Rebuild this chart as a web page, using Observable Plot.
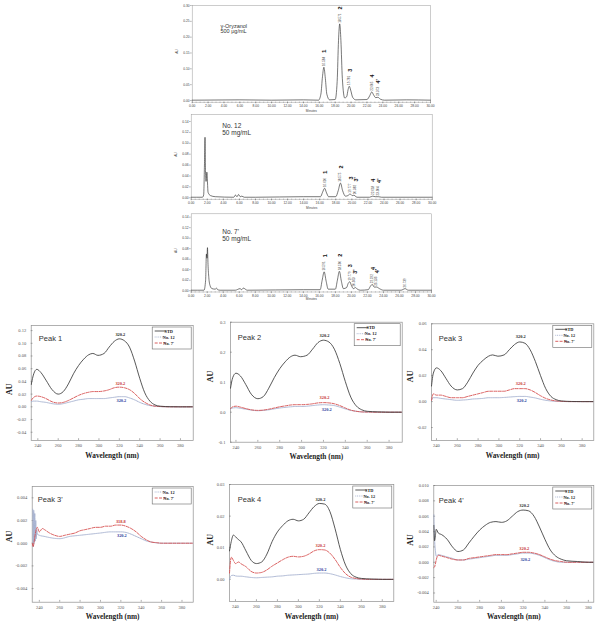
<!DOCTYPE html>
<html><head><meta charset="utf-8">
<script src="https://cdn.jsdelivr.net/npm/d3@7"></script>
<script src="https://cdn.jsdelivr.net/npm/@observablehq/plot@0.6"></script>
<style>
body{margin:0;background:#fff}
#wrap{position:relative;width:607px;height:630px;overflow:hidden;background:#fff}
.panel{position:absolute}
.panel svg{display:block;overflow:visible}
</style>
</head><body><div id="wrap"></div>
<script>
// ---------- Chromatograms ----------
const chromXTicks = [0,2,4,6,8,10,12,14,16,18,20,22,24,26,28,30];
const chromY1Ticks = [0,0.05,0.10,0.15,0.20,0.25,0.30];
const chromY2Ticks = [0,0.02,0.04,0.06,0.08,0.10,0.12,0.14];

const c1T = [0,3,6,10,14,15.9,16.2,16.4,16.58,16.76,16.95,17.3,18.0,18.25,18.42,18.57,18.72,18.9,19.2,19.45,19.62,19.78,19.95,20.2,20.6,22.0,22.35,22.6,22.85,23.1,23.37,23.7,24.2,27,30];
const c1A = [0.001,0.0015,0.002,0.001,0.002,0.001,0.02,0.075,0.105,0.07,0.02,0.002,0.003,0.06,0.19,0.242,0.19,0.07,0.008,0.012,0.034,0.045,0.033,0.01,0.002,0.003,0.015,0.027,0.017,0.009,0.01,0.004,0.001,0.002,0.001];
const c1PeakT = [16.584,18.571,19.781,22.605,23.373];
const c1PeakA = [0.105,0.242,0.045,0.027,0.010];
const c1PeakRt = ["16.584","18.571","19.781","22.605","23.373"];
const c1PeakNo = ["1","2","3","4","4'"];

const c2T = [0,1.4,1.55,1.65,1.72,1.78,1.85,1.95,2.1,2.4,3,5.3,5.5,5.7,5.9,6.1,6.3,6.6,8,14,16.1,16.35,16.6,16.85,17.1,18.0,18.3,18.58,18.85,19.2,19.5,19.78,20.05,20.2,20.38,20.6,22.2,22.6,22.9,23.3,23.7,26,30];
const c2A = [0.001,0.001,0.005,0.06,0.111,0.05,0.03,0.047,0.01,0.004,0.002,0.001,0.005,0.002,0.006,0.002,0.003,0.001,0.001,0.002,0.002,0.010,0.0175,0.009,0.002,0.002,0.013,0.027,0.013,0.003,0.004,0.007,0.004,0.0045,0.004,0.001,0.001,0.003,0.002,0.002,0.001,0.001,0.001];
const c2PeakT = [16.610,18.575,19.777,20.382,22.618,23.304];
const c2PeakA = [0.0175,0.027,0.007,0.0045,0.003,0.002];
const c2PeakRt = ["16.610","18.575","19.777","20.382","22.618","23.304"];
const c2PeakNo = ["1","2","3","3'","4","4'"];

const c3T = [0,1.6,1.8,1.9,1.97,2.03,2.1,2.2,2.35,2.6,3.0,3.15,3.3,3.6,5.5,6.1,6.3,6.5,7,14,16.1,16.35,16.6,16.85,17.1,18.0,18.25,18.5,18.75,19.0,19.4,19.6,19.8,20.0,20.25,20.5,20.75,21.1,22.1,22.35,22.6,22.85,23.15,23.5,24.0,26.2,26.7,27.1,30];
const c3A = [0.001,0.001,0.02,0.07,0.062,0.082,0.05,0.025,0.01,0.004,0.003,0.005,0.002,0.001,0.001,0.004,0.002,0.005,0.001,0.002,0.002,0.02,0.036,0.018,0.003,0.003,0.02,0.037,0.018,0.004,0.006,0.014,0.017,0.01,0.004,0.006,0.003,0.001,0.002,0.008,0.012,0.007,0.007,0.004,0.001,0.001,0.004,0.001,0.001];
const c3PeakT = [16.591,18.560,19.779,20.363,22.592,23.133,26.739];
const c3PeakA = [0.036,0.037,0.017,0.006,0.012,0.007,0.004];
const c3PeakRt = ["16.591","18.560","19.779","20.363","22.592","23.133","26.739"];
const c3PeakNo = ["1","2","3","3'","4","4'",""];

// ---------- UV spectra ----------
const specXTicks = [240,260,280,300,320,340,360,380];
const seriesNames = ["STD","No. 12","No. 7'"];

const p1Wl = [233.5,236,239,243,248,254,260,265,270,275,280,285,290,294,299,305,310,315,320,325,330,335,340,345,350,355,360,370,380,392.5];
const p1Std = [0.035,0.052,0.059,0.054,0.042,0.027,0.020,0.024,0.036,0.052,0.065,0.075,0.082,0.084,0.081,0.084,0.094,0.103,0.107,0.104,0.094,0.072,0.045,0.022,0.009,0.003,0.001,0.0002,0,0];
const p1No12 = [0.008,0.009,0.009,0.008,0.007,0.005,0.004,0.005,0.007,0.009,0.011,0.012,0.013,0.013,0.013,0.013,0.014,0.015,0.016,0.016,0.014,0.011,0.007,0.004,0.002,0.001,0.0003,0,0,0];
const p1No7 = [0.010,0.015,0.017,0.016,0.013,0.008,0.006,0.007,0.010,0.014,0.018,0.021,0.023,0.024,0.024,0.025,0.027,0.030,0.031,0.030,0.027,0.021,0.013,0.007,0.003,0.001,0.0005,0,0,0];
const p1YTicks = [-0.04,-0.02,0,0.02,0.04,0.06,0.08,0.10,0.12];

const p2Wl = [235,237,240,244,249,254,260,265,270,275,280,285,290,294,299,305,310,315,320,325,330,335,340,345,350,355,360,370,380,392];
const p2Std = [0.080,0.115,0.130,0.121,0.092,0.060,0.045,0.052,0.080,0.115,0.145,0.168,0.185,0.190,0.185,0.190,0.210,0.232,0.240,0.234,0.210,0.162,0.102,0.050,0.021,0.008,0.003,0.001,0,0];
const p2No12 = [0.010,0.014,0.015,0.013,0.010,0.007,0.005,0.006,0.008,0.011,0.014,0.016,0.018,0.019,0.019,0.020,0.022,0.024,0.025,0.024,0.022,0.017,0.011,0.006,0.003,0.001,0.0004,0,0,0];
const p2No7 = [0.012,0.018,0.020,0.017,0.012,0.008,0.006,0.007,0.010,0.014,0.018,0.021,0.024,0.025,0.025,0.026,0.028,0.031,0.032,0.031,0.028,0.022,0.014,0.007,0.003,0.001,0.0005,0,0,0];
const p2YTicks = [-0.1,0,0.1,0.2,0.3];

const p3Wl = [235.2,237,240,244,249,254,260,265,270,275,280,285,290,294,299,305,310,315,320,325,330,335,340,345,350,355,360,370,380,391.2];
const p3Std = [0.012,0.022,0.026,0.024,0.018,0.012,0.009,0.010,0.015,0.022,0.028,0.032,0.035,0.036,0.035,0.036,0.040,0.044,0.046,0.045,0.040,0.031,0.020,0.010,0.004,0.0015,0.0005,0.0001,0,0];
const p3No12 = [0.001,0.003,0.003,0.0025,0.002,0.0015,0.001,0.0012,0.0015,0.002,0.0022,0.0025,0.003,0.003,0.003,0.0032,0.0035,0.0038,0.004,0.004,0.0035,0.0028,0.0018,0.001,0.0005,0.0002,0.0001,0,0,0];
const p3No7 = [0.001,0.006,0.005,0.005,0.004,0.003,0.003,0.003,0.004,0.005,0.006,0.007,0.008,0.008,0.008,0.008,0.009,0.010,0.010,0.010,0.009,0.007,0.0045,0.0025,0.0012,0.0005,0.0002,0,0,0];
const p3YTicks = [-0.02,0,0.02,0.04,0.06];

const p4Wl12 = [233.5,234,234.5,235,235.5,236,236.5,237,237.5,238,240,245,250,260,270,280,290,300,310,320,325,330,335,340,345,350,355,360,370,380,391];
const p4No12 = [0.003,-0.0003,0.0029,0.0,0.0026,0.0002,0.002,0.0004,0.0012,0.0008,0.0007,0.0006,0.0005,0.0004,0.0006,0.0007,0.0008,0.0009,0.001,0.001,0.00095,0.0008,0.0006,0.0004,0.0002,0.0001,0.00003,0,0,0,0];
const p4Wl7 = [233,234,235,236,238,240,243,245,250,255,260,265,270,275,280,285,290,295,300,305,310,315,320,325,330,335,340,345,350,355,360,370,380,391];
const p4No7 = [0.0,-0.0003,0.0002,0.0008,0.0014,0.001,0.0013,0.0012,0.0009,0.0007,0.0006,0.0007,0.0008,0.0009,0.0011,0.0012,0.0013,0.0014,0.0014,0.0015,0.0015,0.0016,0.0016,0.0015,0.0013,0.001,0.0006,0.0003,0.0001,0.00005,0,0,0,0];
const p4YTicks = [-0.004,-0.002,0,0.002,0.004];

const p5Wl = [234.3,236,238,240,243,245,250,255,260,265,270,275,280,285,290,295,300,305,310,315,320,325,330,335,340,345,350,355,360,370,380,391];
const p5Std = [0.009,0.012,0.014,0.0135,0.0125,0.012,0.009,0.006,0.005,0.0055,0.008,0.012,0.015,0.017,0.0185,0.019,0.0185,0.019,0.021,0.023,0.024,0.0238,0.0215,0.016,0.0095,0.0045,0.0018,0.0007,0.0003,0.0001,0,0];
const p5No12 = [0.0,0.0012,0.0013,0.0011,0.001,0.001,0.0008,0.0006,0.0005,0.0006,0.0007,0.0008,0.001,0.0011,0.0013,0.0014,0.0015,0.0016,0.0017,0.0019,0.002,0.002,0.0018,0.0014,0.0009,0.0005,0.0002,0.0001,0,0,0,0];
const p5No7 = [0.002,0.007,0.006,0.005,0.0055,0.005,0.004,0.0025,0.002,0.0022,0.003,0.0042,0.0052,0.0062,0.007,0.0073,0.0071,0.0073,0.008,0.009,0.0094,0.0093,0.0083,0.0063,0.0038,0.0018,0.0007,0.0003,0.0001,0,0,0];
const p5YTicks = [0,0.01,0.02,0.03];

const p6Wl = [237.8,238.5,239.3,240,242,245,250,255,260,265,270,275,280,285,290,295,300,305,310,315,320,325,330,335,340,345,350,355,360,370,380,385];
const p6Std = [0.0048,0.0028,0.0035,0.0043,0.0038,0.0036,0.003,0.002,0.0014,0.0016,0.0025,0.0034,0.0042,0.0048,0.0052,0.0053,0.0052,0.0054,0.006,0.0066,0.0068,0.0067,0.006,0.0046,0.003,0.0016,0.0008,0.0004,0.0002,0.0001,0,0];
const p6No12 = [0.0062,0.003,0.0015,0.0008,0.001,0.0009,0.0007,0.0005,0.0003,0.0003,0.0004,0.0005,0.0006,0.0007,0.0008,0.0009,0.0009,0.0009,0.001,0.0011,0.0012,0.0012,0.0011,0.0009,0.0006,0.0003,0.0001,0,0,0,0,0];
const p6No7 = [-0.0007,-0.0006,-0.0002,0.0003,0.0009,0.0008,0.0006,0.0004,0.0003,0.0003,0.0005,0.0006,0.0007,0.0008,0.0009,0.001,0.001,0.001,0.0011,0.0012,0.0013,0.0013,0.0012,0.001,0.0007,0.0004,0.0002,0.0001,0,0,0,0];
const p6YTicks = [-0.004,-0.002,0,0.002,0.004,0.006,0.008,0.010];

// max-wavelength annotations: [x, y, text]
const p1Ann = {std:[321,0.1135,"320.2"], no7:[321,0.037,"320.2"], no12:[322,0.0094,"320.2"]};
const p2Ann = {std:[321,0.255,"320.2"], no7:[321,0.05,"320.2"], no12:[323,0.009,"320.2"]};
const p3Ann = {std:[321,0.0498,"320.2"], no7:[321,0.0137,"320.2"], no12:[322,0.001,"320.2"]};
const p4Ann = {no7:[320,0.0019,"318.8"], no12:[321,0.00065,"320.2"]};
const p5Ann = {std:[321,0.0252,"320.2"], no7:[321,0.0107,"320.2"], no12:[322,0.003,"320.2"]};
const p6Ann = {std:[321,0.0074,"320.2"], no7:[321,0.0018,"320.2"], no12:[322,0.0004,"320.2"]};

// ---------- rendering ----------
const wrap = document.getElementById("wrap");
const SANS = "'Liberation Sans', Arial, sans-serif";
const SERIF = "'Liberation Serif', 'Times New Roman', serif";
const STY = {
  std:{stroke:"#3a3a3a", dash:null, w:0.85},
  no12:{stroke:"#9fabcc", dash:"0.9,0.9", w:0.9},
  no7:{stroke:"#d64f4f", dash:"3,1.3", w:0.9}
};
const ANNCOL = {std:"#222", no7:"#c62f2f", no12:"#2b3b9c"};

function place(svg, left, top) {
  const d = document.createElement("div");
  d.className = "panel";
  d.style.left = left + "px"; d.style.top = top + "px";
  d.appendChild(svg);
  wrap.appendChild(d);
}

function chrom(c) {
  const data = c.t.map((t,i)=>({t, a:c.a[i]}));
  const peaks = c.pt.map((t,i)=>({t, a:c.pa[i], rt:c.prt[i], no:c.pno[i]}));
  const svg = Plot.plot({
    width:c.w, height:c.h,
    marginTop:c.m[0], marginRight:c.m[1], marginBottom:c.m[2], marginLeft:c.m[3],
    style:{fontFamily:SANS, fontSize:"3.3px", color:"#444", background:"transparent"},
    x:{domain:[0,30], label:null},
    y:{domain:c.yd, label:null},
    marks:[
      Plot.frame({stroke:"#9a9a9a", strokeWidth:0.5}),
      Plot.axisX({ticks:d3.range(0,30.01,0.5), tickFormat:()=>"", tickSize:0.8, strokeWidth:0.4, label:null}),
      Plot.axisX({ticks:chromXTicks, tickFormat:d=>d.toFixed(2), tickSize:1.6, tickPadding:0.6, strokeWidth:0.4, label:null}),
      Plot.axisY({ticks:c.yt, tickFormat:d=>d.toFixed(2), tickSize:1.6, tickPadding:1, strokeWidth:0.4, label:null}),
      Plot.line(data, {x:"t", y:"a", stroke:"#1e1e1e", strokeWidth:0.6, curve:"monotone-x"}),
      Plot.text(peaks, {x:"t", y:"a", text:"rt", rotate:-90, textAnchor:"start", dy:-1.2, fontSize:3, fill:"#333"}),
      Plot.text(peaks, {x:"t", y:"a", text:"no", rotate:-90, dy:-16, dx:0.8, fontSize:5.5, fontWeight:"bold", fill:"#111"}),
      Plot.text([c.title[0]], {text:d=>d, frameAnchor:"top-left", dx:c.tdx, dy:c.tdy, textAnchor:"start", fontSize:c.tfs, fill:"#333"}),
      Plot.text([c.title[1]], {text:d=>d, frameAnchor:"top-left", dx:c.tdx, dy:c.tdy + c.tfs*1.05, textAnchor:"start", fontSize:c.tfs, fill:"#333"}),
      Plot.text(["AU"], {text:d=>d, frameAnchor:"left", dx:-15, rotate:-90, fontSize:3.3, fill:"#444"}),
      Plot.text(["Minutes"], {text:d=>d, frameAnchor:"bottom", dy:c.mdy, fontSize:3.2, fill:"#444"})
    ]
  });
  place(svg, c.left, c.top);
}

chrom({left:168, top:0, w:266, h:114, m:[5,4,12.3,23.7], yd:[-0.0054,0.30], yt:chromY1Ticks,
  t:c1T, a:c1A, pt:c1PeakT, pa:c1PeakA, prt:c1PeakRt, pno:c1PeakNo,
  title:["γ-Oryzanol","500 μg/mL"], tdx:28.3, tdy:18.3, tfs:5.5, mdy:10});
chrom({left:168, top:110, w:266, h:102, m:[4,2.3,13.3,22.7], yd:[-0.0026,0.1528], yt:chromY2Ticks,
  t:c2T, a:c2A, pt:c2PeakT, pa:c2PeakA, prt:c2PeakRt, pno:c2PeakNo,
  title:["No. 12","50 mg/mL"], tdx:31, tdy:9.3, tfs:6.5, mdy:9.6});
chrom({left:168, top:210, w:266, h:94, m:[3.3,3,12.5,22.7], yd:[-0.0024,0.1464], yt:chromY2Ticks,
  t:c3T, a:c3A, pt:c3PeakT, pa:c3PeakA, prt:c3PeakRt, pno:c3PeakNo,
  title:["No. 7'","50 mg/mL"], tdx:31, tdy:15.7, tfs:6.5, mdy:8});

function spectrum(c) {
  const [mT,mR,mB,mL] = c.m;
  const fw = c.w - mL - mR, fh = c.h - mT - mB;
  const marks = [
    Plot.frame({stroke:"#8f8f8f", strokeWidth:0.7}),
    Plot.tickX(specXTicks, {x:d=>d, insetTop:fh-1.8, stroke:"#777", strokeWidth:0.6}),
    Plot.tickY(c.yt, {y:d=>d, insetRight:fw-1.8, stroke:"#777", strokeWidth:0.6}),
    Plot.axisX({ticks:specXTicks, tickSize:0, tickPadding:3.6, label:null}),
    Plot.axisY({ticks:c.yt, tickFormat:c.fmt, tickSize:0, tickPadding:5, label:null})
  ];
  for (const s of c.series) {
    const st = STY[s.key];
    marks.push(Plot.line(s.wl.map((x,i)=>({x, y:s.v[i]})), {x:"x", y:"y", stroke:st.stroke, strokeWidth:st.w, strokeDasharray:st.dash, curve:"monotone-x", clip:true}));
  }
  for (const k of Object.keys(c.ann)) {
    const [x,y,t] = c.ann[k];
    marks.push(Plot.text([{x,y,t}], {x:"x", y:"y", text:"t", fill:ANNCOL[k], fontFamily:SERIF, fontWeight:"bold", fontSize:4.4}));
  }
  marks.push(
    Plot.text([c.name], {text:d=>d, frameAnchor:"top-left", dx:c.ndx, dy:c.ndy, textAnchor:"start", fontFamily:SANS, fontSize:7.5, fill:"#333"}),
    Plot.text(["AU"], {text:d=>d, frameAnchor:"left", dx:c.audx, dy:c.audy, rotate:-90, fontFamily:SERIF, fontWeight:"bold", fontSize:8, fill:"#222"}),
    Plot.text(["Wavelength (nm)"], {text:d=>d, frameAnchor:"bottom", dy:17, fontFamily:SERIF, fontWeight:"bold", fontSize:7.3, fill:"#222"})
  );
  const svg = Plot.plot({
    width:c.w, height:c.h, marginTop:mT, marginRight:mR, marginBottom:mB, marginLeft:mL,
    style:{fontFamily:SERIF, fontSize:"4.5px", color:"#555", background:"transparent"},
    x:{domain:c.xd, label:null},
    y:{domain:c.yd, label:null},
    marks
  });
  // legend box (top-right inside the frame)
  const items = c.legend;
  const lw = c.lw || 39, rowH = 6, lh = items.length * rowH + 4;
  const bx = c.w - mR - lw - 1.5, by = mT + 2;
  const g = d3.select(svg).append("g");
  g.append("rect").attr("x",bx).attr("y",by).attr("width",lw).attr("height",lh)
    .attr("fill","#fff").attr("stroke","#6a6a6a").attr("stroke-width",0.6);
  items.forEach((k,i)=>{
    const y = by + 4 + i*rowH;
    const st = STY[k];
    g.append("line").attr("x1",bx+2.5).attr("x2",bx+14).attr("y1",y).attr("y2",y)
      .attr("stroke",st.stroke).attr("stroke-width",st.w).attr("stroke-dasharray",st.dash);
    g.append("text").attr("x",bx+16.5).attr("y",y).attr("dy","0.35em")
      .attr("font-family",SERIF).attr("font-weight","bold").attr("font-size",4.3).attr("fill","#222")
      .text(seriesNames[["std","no12","no7"].indexOf(k)]);
  });
  place(svg, c.left, c.top);
}

const fmt2 = d=>d.toFixed(2), fmt1 = d=>d.toFixed(1), fmt3 = d=>d.toFixed(3);

spectrum({left:0, top:316, w:203, h:148, m:[9,10.3,24,30.7], xd:[233.5,392.5], yd:[-0.053,0.128], yt:p1YTicks, fmt:fmt2,
  series:[{key:"no12",wl:p1Wl,v:p1No12},{key:"no7",wl:p1Wl,v:p1No7},{key:"std",wl:p1Wl,v:p1Std}],
  ann:p1Ann, name:"Peak 1", ndx:7.6, ndy:10, audx:-21.7, audy:12, legend:["std","no12","no7"]});
spectrum({left:204, top:314, w:203, h:152, m:[7.7,5.3,24.3,26], xd:[235,392], yd:[-0.1,0.3], yt:p2YTicks, fmt:fmt1,
  series:[{key:"no12",wl:p2Wl,v:p2No12},{key:"no7",wl:p2Wl,v:p2No7},{key:"std",wl:p2Wl,v:p2Std}],
  ann:p2Ann, name:"Peak 2", ndx:7.3, ndy:12.3, audx:-20, audy:0, legend:["std","no12","no7"], lw:46});
spectrum({left:405, top:316, w:202, h:148, m:[7.3,13.7,24,26], xd:[235.2,391.2], yd:[-0.03,0.06], yt:p3YTicks, fmt:fmt2,
  series:[{key:"no12",wl:p3Wl,v:p3No12},{key:"no7",wl:p3Wl,v:p3No7},{key:"std",wl:p3Wl,v:p3Std}],
  ann:p3Ann, name:"Peak 3", ndx:7.3, ndy:11.7, audx:-21, audy:0, legend:["std","no12","no7"]});
spectrum({left:0, top:476, w:203, h:152, m:[10,10.3,26.3,31.7], xd:[233,391], yd:[-0.0052,0.005], yt:p4YTicks, fmt:fmt3,
  series:[{key:"no12",wl:p4Wl12,v:p4No12},{key:"no7",wl:p4Wl7,v:p4No7}],
  ann:p4Ann, name:"Peak 3'", ndx:5.6, ndy:10, audx:-22.7, audy:-2, legend:["no12","no7"]});
spectrum({left:204, top:476, w:203, h:152, m:[8,13.7,27,25], xd:[234.3,391], yd:[-0.007,0.03], yt:p5YTicks, fmt:fmt2,
  series:[{key:"no12",wl:p5Wl,v:p5No12},{key:"no7",wl:p5Wl,v:p5No7},{key:"std",wl:p5Wl,v:p5Std}],
  ann:p5Ann, name:"Peak 4", ndx:8.3, ndy:12, audx:-19, audy:2.5, legend:["std","no12","no7"]});
spectrum({left:405, top:476, w:202, h:152, m:[9,13.7,26.3,28.3], xd:[237.8,385], yd:[-0.0052,0.010], yt:p6YTicks, fmt:fmt3,
  series:[{key:"no12",wl:p6Wl,v:p6No12},{key:"no7",wl:p6Wl,v:p6No7},{key:"std",wl:p6Wl,v:p6Std}],
  ann:p6Ann, name:"Peak 4'", ndx:5, ndy:11.7, audx:-23.3, audy:2, legend:["std","no12","no7"]});
</script>
</body></html>
